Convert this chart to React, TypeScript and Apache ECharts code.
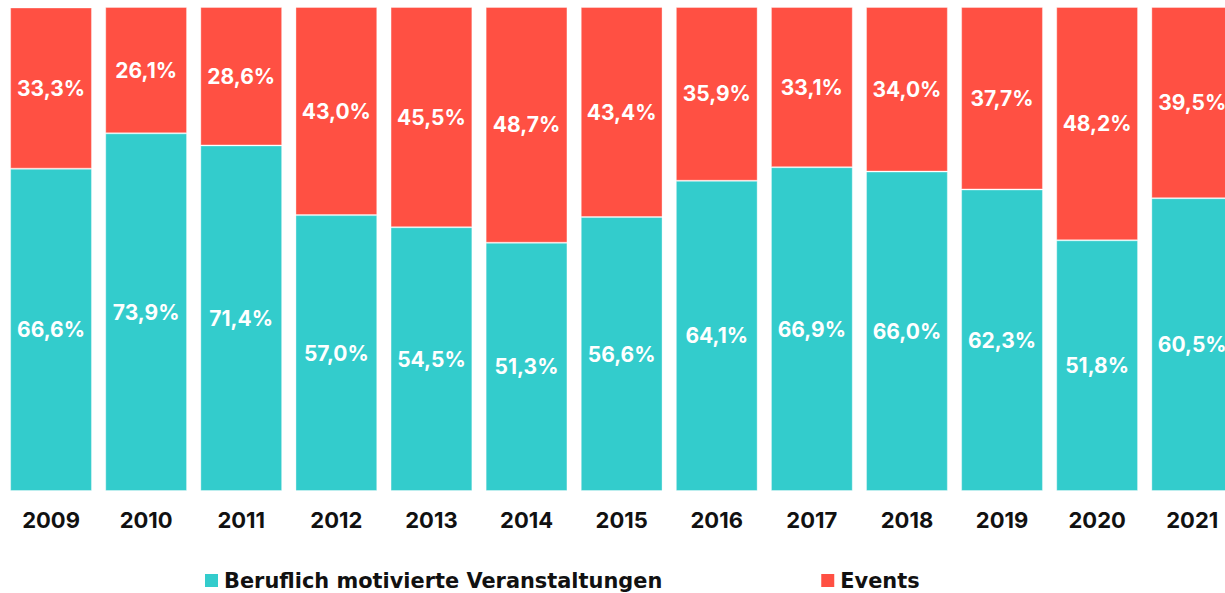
import React, { useEffect, useRef } from "react";
import * as echarts from "echarts";

const years = ["2009", "2010", "2011", "2012", "2013", "2014", "2015", "2016", "2017", "2018", "2019", "2020", "2021"];
const beruflich = [66.6, 73.9, 71.4, 57.0, 54.5, 51.3, 56.6, 64.1, 66.9, 66.0, 62.3, 51.8, 60.5];
const events = [33.3, 26.1, 28.6, 43.0, 45.5, 48.7, 43.4, 35.9, 33.1, 34.0, 37.7, 48.2, 39.5];
const seriesNames = ["Beruflich motivierte Veranstaltungen", "Events"];

const TEAL = "#33CCCC";
const RED = "#FF5043";
const FONT = "Inter, 'Noto Sans', sans-serif";
const LEGEND_FONT = "'DejaVu Sans', sans-serif";

const fmt = (v: number) => v.toFixed(1).replace(".", ",") + "%";

export default function App() {
  const ref = useRef<HTMLDivElement>(null);
  useEffect(() => {
    document.body.style.margin = "0";
    const chart = echarts.init(ref.current!, null, { renderer: "svg" });
    const label = {
      show: true,
      position: "inside",
      color: "#fff",
      fontFamily: FONT,
      fontWeight: 700,
      fontSize: 21,
      formatter: (p: any) => fmt(p.value),
    };
    chart.setOption({
      animation: false,
      grid: { left: 3.5, right: 5.2, top: 7, bottom: 102, containLabel: false },
      legend: {
        left: 205,
        top: 570,
        padding: 0,
        icon: "rect",
        itemWidth: 13,
        itemHeight: 13,
        itemGap: 159,
        itemStyle: { borderWidth: 0 },
        textStyle: { fontFamily: LEGEND_FONT, fontWeight: 700, fontSize: 20.9, color: "#111", padding: [0, 0, 0, 1] },
        data: seriesNames,
      },
      xAxis: {
        type: "category",
        data: years,
        axisLine: { show: false },
        axisTick: { show: false },
        axisLabel: { color: "#111", fontFamily: FONT, fontWeight: 700, fontSize: 22, margin: 18 },
      },
      yAxis: { type: "value", min: 0, max: 100, show: false, splitLine: { show: false } },
      series: [
        {
          name: seriesNames[0],
          type: "bar",
          stack: "total",
          data: beruflich,
          barCategoryGap: "14%",
          itemStyle: { color: TEAL, borderColor: "rgba(255,255,255,0.35)", borderWidth: 1 },
          label,
        },
        {
          name: seriesNames[1],
          type: "bar",
          stack: "total",
          data: events,
          barCategoryGap: "14%",
          itemStyle: { color: RED, borderColor: "rgba(255,255,255,0.35)", borderWidth: 1 },
          label,
        },
      ],
    });
    return () => chart.dispose();
  }, []);
  return (
    <div style={{ position: "fixed", left: 0, top: 0, width: 1225, height: 593, overflow: "hidden", background: "#fff" }}>
      <div ref={ref} style={{ width: 1245, height: 593 }} />
    </div>
  );
}
